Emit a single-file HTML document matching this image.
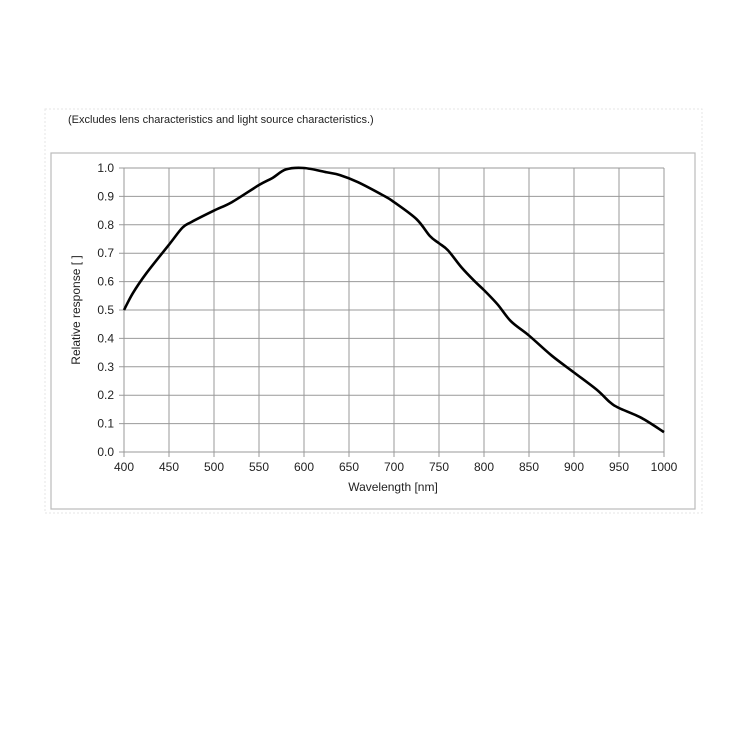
<!DOCTYPE html>
<html><head><meta charset="utf-8"><style>
body{margin:0;background:#fff;}
svg{display:block;font-family:"Liberation Sans",Arial,sans-serif;}
</style></head><body>
<svg width="750" height="750" viewBox="0 0 750 750">
<rect x="45" y="109" width="657" height="404" fill="none" stroke="#e6e6e6" stroke-width="1" stroke-dasharray="2,2"/>
<text x="68" y="123" font-size="11" fill="#222">(Excludes lens characteristics and light source characteristics.)</text>
<rect x="51" y="153" width="644" height="356" fill="none" stroke="#bbb" stroke-width="1.2"/>
<g id="grid"></g>
<g id="axes"></g>
<path id="curve" fill="none" stroke="#000" stroke-width="2.6" stroke-linejoin="round"/>
<text x="393" y="491" font-size="12" text-anchor="middle" fill="#222">Wavelength [nm]</text>
<text transform="translate(80,310) rotate(-90)" font-size="12" text-anchor="middle" fill="#222">Relative response [ ]</text>
</svg>
<script>
const wavelengths=[400,410,425,450,465,475,500,520,550,565,580,600,625,640,660,690,700,725,740,750,760,775,790,800,815,830,850,875,900,925,940,950,975,1000];
const response=[0.50,0.56,0.63,0.73,0.79,0.81,0.85,0.88,0.94,0.965,0.995,1.0,0.985,0.975,0.95,0.90,0.88,0.82,0.76,0.735,0.71,0.65,0.60,0.57,0.52,0.46,0.41,0.34,0.28,0.22,0.175,0.155,0.12,0.07];
const xTicks=[400,450,500,550,600,650,700,750,800,850,900,950,1000];
const yTicks=[0,0.1,0.2,0.3,0.4,0.5,0.6,0.7,0.8,0.9,1.0];
const X0=124,X1=664,Y0=452,Y1=168;
const sx=v=>X0+(v-400)/600*(X1-X0);
const sy=v=>Y0-v*(Y0-Y1);
const NS="http://www.w3.org/2000/svg";
const grid=document.getElementById('grid'),axes=document.getElementById('axes');
function mk(tag,attrs,parent){const e=document.createElementNS(NS,tag);for(const k in attrs)e.setAttribute(k,attrs[k]);parent.appendChild(e);return e;}
xTicks.forEach(t=>{
 const l=mk('line',{x1:sx(t),x2:sx(t),y1:Y1,y2:Y0+5,stroke:'#999','stroke-width':1},grid);
 
 
 const tx=mk('text',{x:sx(t),y:471,'font-size':12,'text-anchor':'middle',fill:'#222'},axes);
 tx.textContent=t;
 
 
});
yTicks.forEach(t=>{
 const l=mk('line',{x1:X0-5,x2:X1,y1:sy(t),y2:sy(t),stroke:'#999','stroke-width':1},grid);
 
 
 const tx=mk('text',{x:X0-10,y:sy(t)+4,'font-size':12,'text-anchor':'end',fill:'#222'},axes);
 tx.textContent=t.toFixed(1);
 
 
});
const pts=wavelengths.map((w,i)=>[sx(w),sy(response[i])]);
let d='M'+pts[0][0]+','+pts[0][1];
for(let i=0;i<pts.length-1;i++){
 const p0=pts[Math.max(0,i-1)],p1=pts[i],p2=pts[i+1],p3=pts[Math.min(pts.length-1,i+2)];
 const c1x=p1[0]+(p2[0]-p0[0])/6,c1y=p1[1]+(p2[1]-p0[1])/6;
 const c2x=p2[0]-(p3[0]-p1[0])/6,c2y=p2[1]-(p3[1]-p1[1])/6;
 d+=` C${c1x},${c1y} ${c2x},${c2y} ${p2[0]},${p2[1]}`;
}
document.getElementById('curve').setAttribute('d',d);
</script>
</body></html>
